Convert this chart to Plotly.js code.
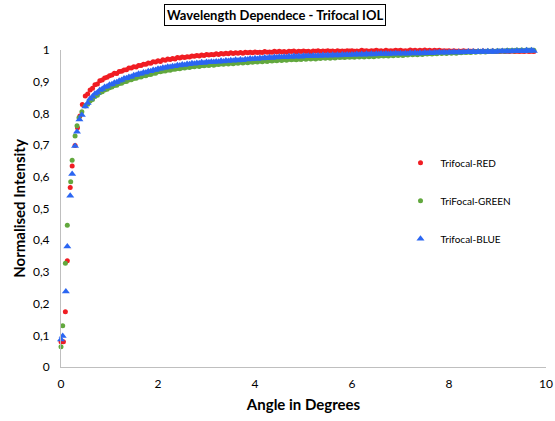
<!DOCTYPE html>
<html>
<head>
<meta charset="utf-8">
<script src="https://cdn.plot.ly/plotly-3.0.1.min.js"></script>
<style>html,body{margin:0;padding:0;background:#fff;}#chart{width:555px;height:421px;}</style>
</head>
<body>
<div id="chart"></div>
<script>
// Shared angle grid after the steep rise (degrees)
const tailAngle = [
0.5,0.55,0.6,0.65,0.7,0.75,0.8,0.85,0.9,0.95,
1.0,1.05,1.1,1.15,1.2,1.25,1.3,1.35,1.4,1.45,
1.5,1.55,1.6,1.65,1.7,1.75,1.8,1.85,1.9,1.95,
2.0,2.05,2.1,2.15,2.2,2.25,2.3,2.35,2.4,2.45,
2.5,2.55,2.6,2.65,2.7,2.75,2.8,2.85,2.9,2.95,
3.0,3.05,3.1,3.15,3.2,3.25,3.3,3.35,3.4,3.45,
3.5,3.55,3.6,3.65,3.7,3.75,3.8,3.85,3.9,3.95,
4.0,4.05,4.1,4.15,4.2,4.25,4.3,4.35,4.4,4.45,
4.5,4.55,4.6,4.65,4.7,4.75,4.8,4.85,4.9,4.95,
5.0,5.05,5.1,5.15,5.2,5.25,5.3,5.35,5.4,5.45,
5.5,5.55,5.6,5.65,5.7,5.75,5.8,5.85,5.9,5.95,
6.0,6.05,6.1,6.15,6.2,6.25,6.3,6.35,6.4,6.45,
6.5,6.55,6.6,6.65,6.7,6.75,6.8,6.85,6.9,6.95,
7.0,7.05,7.1,7.15,7.2,7.25,7.3,7.35,7.4,7.45,
7.5,7.55,7.6,7.65,7.7,7.75,7.8,7.85,7.9,7.95,
8.0,8.05,8.1,8.15,8.2,8.25,8.3,8.35,8.4,8.45,
8.5,8.55,8.6,8.65,8.7,8.75,8.8,8.85,8.9,8.95,
9.0,9.05,9.1,9.15,9.2,9.25,9.3,9.35,9.4,9.45,
9.5,9.55,9.6,9.65,9.7,9.75];

// Steep rise near 0 degrees
const redAngleStart   = [0, 0.05, 0.09, 0.13, 0.19, 0.23, 0.29, 0.34, 0.39, 0.44];
const redStart        = [0.08, 0.08, 0.174, 0.335, 0.566, 0.634, 0.699, 0.755, 0.792, 0.828];
const greenAngleStart = [0, 0.035, 0.09, 0.13, 0.2, 0.23, 0.29, 0.33, 0.37, 0.43];
const greenStart      = [0.064, 0.13, 0.327, 0.447, 0.584, 0.652, 0.729, 0.761, 0.786, 0.805];
const blueAngleStart  = [0, 0.035, 0.1, 0.13, 0.19, 0.23, 0.29, 0.33, 0.38, 0.43];
const blueStart       = [0.087, 0.098, 0.238, 0.38, 0.54, 0.609, 0.697, 0.742, 0.781, 0.795];

const redTail = [
.855,.861,.874,.879,.890,.893,.903,.905,.912,.914,
.919,.921,.927,.926,.932,.933,.937,.938,.943,.943,
.947,.946,.951,.951,.955,.955,.959,.958,.963,.962,
.966,.964,.969,.968,.972,.970,.973,.972,.976,.975,
.978,.976,.979,.978,.981,.980,.983,.981,.984,.983,
.986,.984,.986,.985,.988,.986,.989,.987,.990,.988,
.991,.989,.991,.990,.992,.990,.993,.991,.993,.991,
.994,.992,.993,.992,.995,.993,.994,.993,.996,.994,
.996,.994,.995,.993,.996,.995,.997,.994,.996,.995,
.997,.995,.996,.994,.997,.996,.998,.995,.997,.996,
.998,.996,.997,.995,.998,.996,.997,.996,.998,.997,
.998,.996,.997,.996,.999,.997,.998,.996,.998,.997,
.999,.997,.998,.996,.999,.997,.998,.997,.999,.998,
.999,.997,.998,.997,1.0,.998,.999,.997,.999,.998,
1.0,.998,.999,.997,.999,.998,.999,.997,.998,.997,
.998,.996,.998,.996,.997,.996,.998,.996,.997,.996,
.997,.995,.996,.995,.997,.995,.996,.995,.997,.995,
.996,.995,.997,.995,.996,.995,.997,.995,.996,.995,
.996,.995,.997,.995,.996,.995];
const greenTail = [
.823,.829,.839,.844,.853,.857,.865,.868,.874,.876,
.881,.883,.888,.889,.894,.895,.900,.901,.905,.906,
.910,.911,.915,.915,.919,.919,.923,.923,.927,.927,
.931,.931,.934,.934,.937,.936,.939,.939,.942,.941,
.944,.943,.946,.945,.948,.947,.950,.948,.951,.950,
.953,.951,.954,.952,.955,.954,.957,.955,.958,.956,
.959,.957,.960,.958,.961,.959,.962,.960,.963,.961,
.964,.962,.965,.963,.966,.964,.967,.965,.968,.966,
.969,.967,.970,.968,.971,.969,.971,.969,.972,.970,
.973,.971,.974,.972,.974,.972,.975,.973,.976,.974,
.976,.974,.977,.975,.978,.976,.978,.976,.979,.977,
.979,.977,.980,.978,.980,.978,.981,.979,.981,.979,
.982,.980,.983,.981,.983,.981,.984,.982,.985,.983,
.985,.983,.986,.984,.987,.985,.987,.985,.988,.986,
.989,.987,.989,.987,.990,.988,.991,.989,.991,.989,
.992,.990,.992,.990,.993,.991,.994,.992,.994,.992,
.995,.993,.996,.994,.996,.994,.997,.995,.997,.995,
.998,.996,.998,.996,.999,.997,.999,.997,1.0,.998,
1.0,.998,1.0,.999,1.0,.999];
const blueTail = [
.822,.833,.846,.853,.862,.866,.874,.877,.883,.885,
.890,.892,.897,.898,.903,.905,.910,.911,.915,.916,
.920,.921,.925,.925,.929,.929,.933,.933,.937,.937,
.941,.941,.944,.944,.947,.946,.949,.949,.952,.951,
.954,.953,.956,.955,.958,.957,.959,.958,.961,.959,
.962,.961,.963,.962,.964,.963,.966,.964,.967,.965,
.968,.966,.969,.967,.970,.968,.971,.970,.973,.971,
.974,.972,.975,.973,.976,.974,.977,.975,.978,.976,
.979,.977,.979,.977,.980,.978,.981,.979,.981,.979,
.982,.980,.982,.980,.983,.981,.983,.981,.984,.982,
.984,.982,.985,.983,.985,.983,.986,.984,.986,.984,
.986,.985,.987,.985,.987,.985,.988,.986,.988,.986,
.988,.987,.989,.987,.989,.987,.989,.988,.990,.988,
.990,.988,.990,.988,.991,.989,.991,.989,.991,.989,
.992,.990,.992,.990,.992,.991,.993,.991,.993,.991,
.993,.992,.994,.992,.994,.992,.994,.993,.995,.993,
.995,.993,.995,.994,.996,.994,.996,.994,.996,.994,
.996,.995,.997,.995,.997,.995,.997,.996,.998,.996,
.998,.996,.999,.997,.999,.997];

const seriesNames = ['Trifocal-RED', 'TriFocal-GREEN', 'Trifocal-BLUE'];
const xTickVals = [0, 2, 4, 6, 8, 10];
const yTickVals = [0, 0.1, 0.2, 0.3, 0.4, 0.5, 0.6, 0.7, 0.8, 0.9, 1];

const FONT = 'Lato, "Open Sans", sans-serif';

const traces = [
  {x: redAngleStart.concat(tailAngle), y: redStart.concat(redTail), name: seriesNames[0],
   mode: 'markers', type: 'scatter', cliponaxis: false, legendgroup: 'r',
   marker: {color: '#f01d23', size: 5, symbol: 'circle'}},
  {x: greenAngleStart.concat(tailAngle), y: greenStart.concat(greenTail), name: seriesNames[1],
   mode: 'markers', type: 'scatter', cliponaxis: false, legendgroup: 'g',
   marker: {color: '#62a83e', size: 5, symbol: 'circle'}},
  {x: blueAngleStart.concat(tailAngle), y: blueStart.concat(blueTail), name: seriesNames[2],
   mode: 'markers', type: 'scatter', cliponaxis: false, legendgroup: 'b',
   marker: {color: '#2b66f2', size: 7, symbol: 'triangle-up'}}
];

const layout = {
  width: 555, height: 421,
  margin: {l: 61, r: 9, t: 50, b: 54},
  paper_bgcolor: '#ffffff', plot_bgcolor: '#ffffff',
  separators: ', ',
  font: {family: FONT, color: '#000000', size: 12},
  showlegend: true,
  legend: {x: 0.70, y: 0.69, xanchor: 'left', yanchor: 'top', traceorder: 'grouped',
           tracegroupgap: 19, font: {family: FONT, size: 10, color: '#000'}, bgcolor: 'rgba(0,0,0,0)'},
  xaxis: {range: [0, 10], tickvals: xTickVals, showgrid: false, zeroline: false,
          showline: true, linecolor: '#bfbfbf', linewidth: 1, ticks: '', ticklabelstandoff: 6,
          tickfont: {family: FONT, size: 12, color: '#000'},
          title: {text: '<b>Angle in Degrees</b>', font: {family: FONT, size: 15, color: '#000'}, standoff: 9}},
  yaxis: {range: [0, 1], tickvals: yTickVals, tickformat: '.1~f', showgrid: false, zeroline: false,
          showline: true, linecolor: '#bfbfbf', linewidth: 1, ticks: '', ticklabelstandoff: 8,
          tickfont: {family: FONT, size: 12, color: '#000'},
          title: {text: '<b>Normalised Intensity</b>', font: {family: FONT, size: 15, color: '#000'}, standoff: 3}},
  annotations: [{
    text: '<b>Wavelength Dependece - Trifocal IOL</b>', xref: 'paper', yref: 'paper',
    x: 0.442, y: 1.109, xanchor: 'center', yanchor: 'middle', showarrow: false,
    font: {family: FONT, size: 13, color: '#000'}, bordercolor: '#000', borderwidth: 1, borderpad: 2
  }]
};

Plotly.newPlot('chart', traces, layout, {displayModeBar: false, staticPlot: true});
</script>
</body>
</html>
